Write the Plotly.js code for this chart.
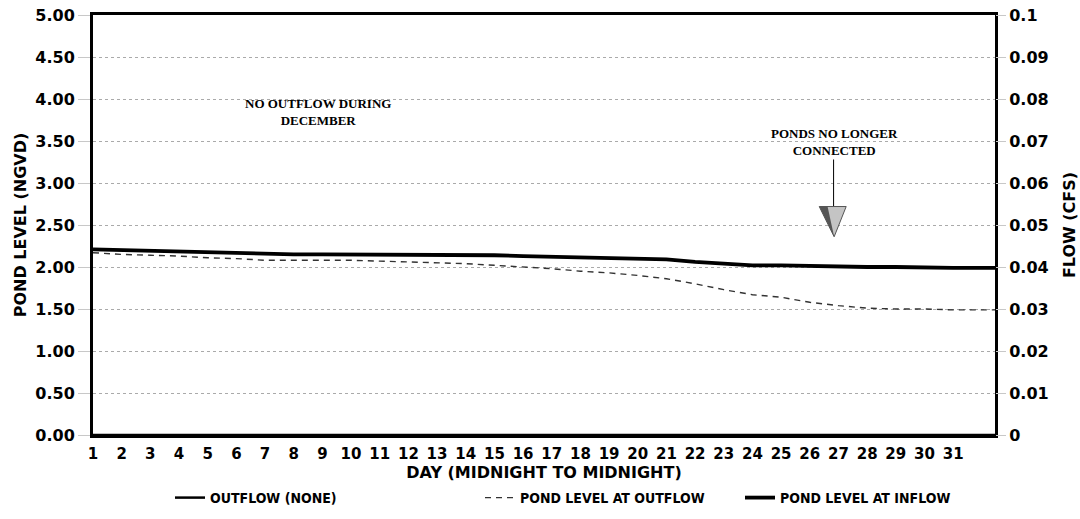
<!DOCTYPE html>
<html>
<head>
<meta charset="utf-8">
<script src="https://cdn.plot.ly/plotly-3.0.1.min.js"></script>
<style>
html,body{margin:0;padding:0;background:#fff;}
#chart{width:1080px;height:519px;}
</style>
</head>
<body>
<div id="chart"></div>
<script>
// ---- data ----
const days = [1,2,3,4,5,6,7,8,9,10,11,12,13,14,15,16,17,18,19,20,21,22,23,24,25,26,27,28,29,30,31,32,32.5];
const pondLevelInflow = [2.21,2.20,2.19,2.18,2.17,2.16,2.15,2.15,2.15,2.15,2.15,2.15,2.15,2.15,2.14,2.13,2.12,2.11,2.11,2.10,2.09,2.06,2.04,2.02,2.02,2.01,2.01,2.00,2.00,1.99,1.99,1.99,1.99];
const pondLevelOutflow = [2.17,2.15,2.14,2.13,2.11,2.10,2.08,2.08,2.08,2.08,2.07,2.06,2.05,2.04,2.02,2.00,1.98,1.95,1.93,1.90,1.86,1.80,1.73,1.67,1.64,1.58,1.54,1.51,1.50,1.50,1.49,1.49,1.49];
const outflowCfs = [0,0,0,0,0,0,0,0,0,0,0,0,0,0,0,0,0,0,0,0,0,0,0,0,0,0,0,0,0,0,0,0,0];
const dayTicks = [1,2,3,4,5,6,7,8,9,10,11,12,13,14,15,16,17,18,19,20,21,22,23,24,25,26,27,28,29,30,31];
const levelTicks = [0,0.5,1,1.5,2,2.5,3,3.5,4,4.5,5];
const levelTickText = ["0.00","0.50","1.00","1.50","2.00","2.50","3.00","3.50","4.00","4.50","5.00"];
const flowTicks = [0,0.01,0.02,0.03,0.04,0.05,0.06,0.07,0.08,0.09,0.1];
const flowTickText = ["0","0.01","0.02","0.03","0.04","0.05","0.06","0.07","0.08","0.09","0.1"];
const seriesNames = ["OUTFLOW (NONE)","POND LEVEL AT OUTFLOW","POND LEVEL AT INFLOW"];
const noteLeft = "NO OUTFLOW DURING<br>DECEMBER";
const noteRight = "PONDS NO LONGER<br>CONNECTED";

const sans = "DejaVu Sans, Liberation Sans, Arial, sans-serif";
const yTickFont = {family:sans, size:16, color:"#000", weight:"bold"};
const xTickFont = {family:sans, size:15, color:"#000", weight:"bold"};
const titleFont = {family:sans, size:16, color:"#000", weight:"bold"};
const legFont = {family:"DejaVu Sans Condensed, Liberation Sans Narrow, Arial Narrow, sans-serif", size:14, color:"#000", weight:"bold"};
const noteFont = {family:"Liberation Serif, Times New Roman, serif", size:13, color:"#000", weight:"bold"};

const traces = [
  {x:days, y:outflowCfs, yaxis:"y2", name:seriesNames[0], mode:"lines",
   line:{color:"#000", width:2.5}, legend:"legend"},
  {x:days, y:pondLevelOutflow, name:seriesNames[1], mode:"lines",
   line:{color:"#333", width:1.4, dash:"6px,5px"}, legend:"legend2"},
  {x:days, y:pondLevelInflow, name:seriesNames[2], mode:"lines",
   line:{color:"#000", width:3.8}, legend:"legend3"}
];

const legY = 1 - 498/519;
const legBase = {orientation:"h", yref:"container", xref:"container", y:legY, yanchor:"middle", xanchor:"left",
  font:legFont, bgcolor:"rgba(0,0,0,0)", borderwidth:0, itemwidth:30};

const layout = {
  width:1080, height:519,
  margin:{l:93, r:85, t:15, b:84, autoexpand:false},
  paper_bgcolor:"#fff", plot_bgcolor:"#fff",
  showlegend:true,
  legend: Object.assign({}, legBase, {x:170/1080}),
  legend2: Object.assign({}, legBase, {x:480/1080}),
  legend3: Object.assign({}, legBase, {x:740/1080}),
  xaxis:{
    range:[1,32.46], tickmode:"array", tickvals:dayTicks, ticktext:dayTicks.map(String),
    tickfont:xTickFont, showgrid:false, zeroline:false, automargin:false,
    showline:true, linecolor:"#000", linewidth:3, mirror:true,
    ticks:"", ticklabelstandoff:3,
    title:{text:"DAY (MIDNIGHT TO MIDNIGHT)", font:titleFont, standoff:2}
  },
  yaxis:{
    range:[0,5], tickmode:"array", tickvals:levelTicks, ticktext:levelTickText,
    tickfont:yTickFont, showgrid:true, gridcolor:"#aaa", griddash:"dot", gridwidth:1,
    zeroline:false, showline:true, linecolor:"#000", linewidth:3, mirror:true, automargin:false,
    ticks:"outside", ticklen:12, tickcolor:"#c8c8c8", tickwidth:1,
    title:{text:"POND LEVEL (NGVD)", font:titleFont, standoff:5}
  },
  yaxis2:{
    overlaying:"y", side:"right", range:[0,0.1], tickmode:"array",
    tickvals:flowTicks, ticktext:flowTickText, tickfont:yTickFont, automargin:false,
    showgrid:false, zeroline:false, showline:false,
    ticks:"outside", ticklen:10, tickcolor:"#c8c8c8", tickwidth:1,
    title:{text:"FLOW (CFS)", font:titleFont, standoff:16}
  },
  annotations:[
    {x:8.85, y:3.85, xref:"x", yref:"y", text:noteLeft, showarrow:false,
     font:noteFont, align:"center", xanchor:"center", yanchor:"middle"},
    {x:26.85, y:3.49, xref:"x", yref:"y", text:noteRight, showarrow:false,
     font:noteFont, align:"center", xanchor:"center", yanchor:"middle"}
  ],
  shapes:[
    {type:"line", xref:"x", yref:"y", x0:26.83, x1:26.83, y0:3.28, y1:2.72,
     line:{color:"#000", width:1}},
    {type:"path", xref:"x", yref:"y", path:"M 26.33 2.72 L 27.27 2.72 L 26.85 2.36 Z",
     fillcolor:"#c4c4c4", line:{color:"#555", width:1}},
    {type:"path", xref:"x", yref:"y", path:"M 26.33 2.72 L 26.62 2.72 L 26.85 2.36 Z",
     fillcolor:"#555", line:{width:0}}
  ]
};

Plotly.newPlot("chart", traces, layout, {displayModeBar:false, staticPlot:true});
</script>
</body>
</html>
